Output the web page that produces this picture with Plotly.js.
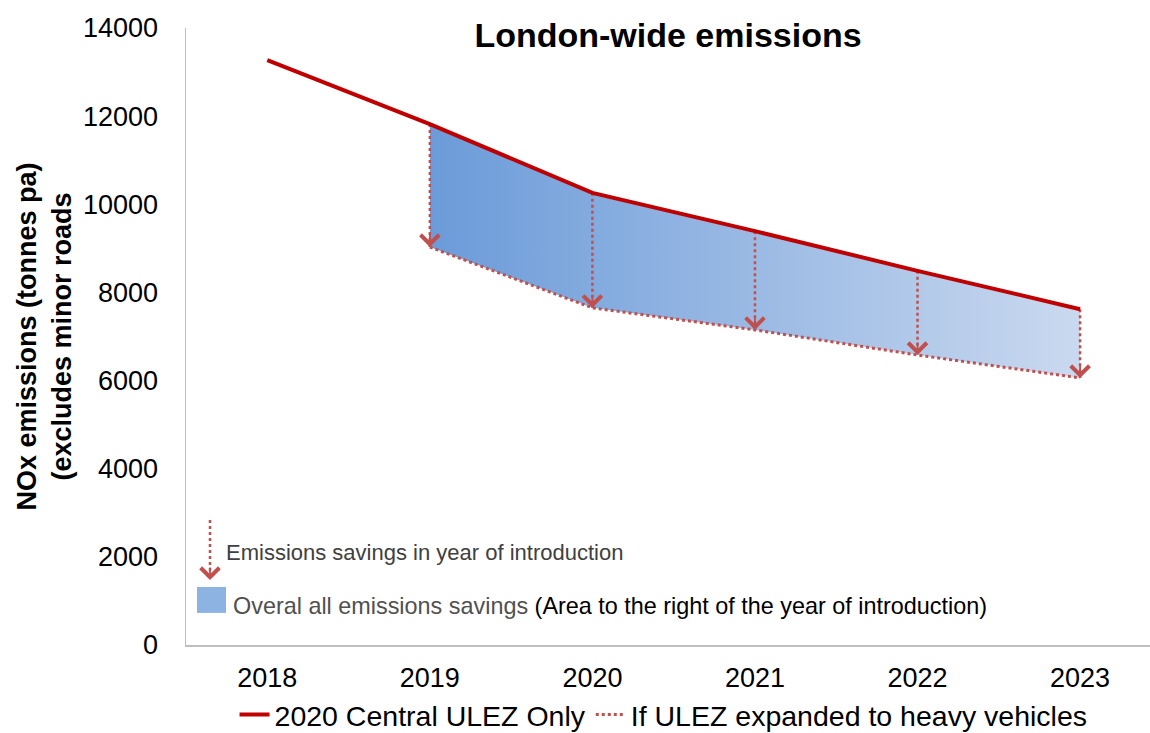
<!DOCTYPE html>
<html><head><meta charset="utf-8">
<script src="https://cdn.plot.ly/plotly-3.0.1.min.js"></script>
<style>html,body{margin:0;padding:0;background:#fff}#chart{width:1150px;height:733px}</style>
</head><body><div id="chart"></div>
<script>
const years = [2018, 2019, 2020, 2021, 2022, 2023];
const centralUlez = [13270, 11820, 10260, 9390, 8490, 7620];
const savingYears = [2019, 2020, 2021, 2022, 2023];
const expandedUlez = [9030, 7650, 7150, 6580, 6060];
const yTicks = [0, 2000, 4000, 6000, 8000, 10000, 12000, 14000];
const seriesNames = ['2020 Central ULEZ Only', 'If ULEZ expanded to heavy vehicles'];
const titleText = 'London-wide emissions';
const yTitleLines = ['NOx emissions (tonnes pa)', '(excludes minor roads'];
const noteArrowText = 'Emissions savings in year of introduction';
const noteAreaGray = 'Overal all emissions savings';
const noteAreaBlack = '(Area to the right of the year of introduction)';

const FONT = 'Arial, "Liberation Sans", sans-serif';
const RED = '#c00000';
const DOT_RED = '#c0504d';

const centralFromIntro = savingYears.map(y => centralUlez[years.indexOf(y)]);

// dotted drop lines built from the data
const dropX = [], dropY = [];
savingYears.forEach((y, i) => {
  dropX.push(y, y, null);
  dropY.push(centralFromIntro[i], expandedUlez[i], null);
});

const traces = [
  {x: savingYears, y: centralFromIntro, mode: 'lines', line: {width: 0}, showlegend: false, hoverinfo: 'skip'},
  {x: savingYears, y: expandedUlez, mode: 'lines', line: {width: 0}, fill: 'tonexty',
   fillgradient: {type: 'horizontal', colorscale: [[0, '#6b9bd9'], [1, '#cad9ef']]},
   showlegend: false, hoverinfo: 'skip'},
  {x: dropX, y: dropY, mode: 'lines', line: {color: DOT_RED, width: 2.5, dash: 'dot'}, showlegend: false, hoverinfo: 'skip'},
  {x: years, y: centralUlez, mode: 'lines', name: seriesNames[0], line: {color: RED, width: 4}},
  {x: savingYears, y: expandedUlez, mode: 'lines', name: seriesNames[1], line: {color: DOT_RED, width: 3, dash: 'dot'}}
];

const annotations = savingYears.map((y, i) => ({
  x: y, y: expandedUlez[i], xref: 'x', yref: 'y', text: '', showarrow: true,
  ax: 0, ay: -14, arrowhead: 4, arrowsize: 2.0, arrowwidth: 1.8, arrowcolor: DOT_RED
}));

// in-plot key
annotations.push({
  xref: 'paper', yref: 'paper', x: 0.0249, y: 0.1053, text: '', showarrow: true,
  ax: 0, ay: -14, arrowhead: 4, arrowsize: 2.0, arrowwidth: 1.8, arrowcolor: DOT_RED
});
annotations.push({
  xref: 'paper', yref: 'paper', x: 0.0395, y: 0.1507, xanchor: 'left', yanchor: 'middle',
  text: noteArrowText, showarrow: false, font: {family: FONT, size: 22, color: '#404040'}
});
annotations.push({
  xref: 'paper', yref: 'paper', x: 0.0465, y: 0.0632, xanchor: 'left', yanchor: 'middle',
  text: '<span style="color:#505050">' + noteAreaGray + '</span> ' + noteAreaBlack,
  showarrow: false, font: {family: FONT, size: 23.4, color: '#000'}
});

const shapes = [
  {type: 'line', xref: 'paper', yref: 'paper', x0: 0.0249, x1: 0.0249, y0: 0.2026, y1: 0.115,
   line: {color: DOT_RED, width: 2.5, dash: 'dot'}},
  {type: 'rect', xref: 'paper', yref: 'paper', x0: 0.0114, x1: 0.0415, y0: 0.052, y1: 0.094,
   fillcolor: '#8db3e2', line: {width: 0}}
];

const layout = {
  width: 1150, height: 733,
  margin: {l: 186, r: 0, t: 28, b: 88},
  paper_bgcolor: '#fff', plot_bgcolor: '#fff',
  font: {family: FONT, color: '#000'},
  title: {text: titleText, font: {family: FONT, size: 34, weight: 'bold', color: '#000'},
          x: 0.5, xref: 'paper', xanchor: 'center', y: 0.952, yref: 'container', yanchor: 'middle'},
  xaxis: {range: [2017.5, 2023.43], tickvals: years, ticktext: years.map(String),
          showline: true, linecolor: '#bfbfbf', linewidth: 2, showgrid: false, zeroline: false,
          ticks: '', tickfont: {family: FONT, size: 27, color: '#000'}, ticklabelstandoff: 8,
          automargin: false},
  yaxis: {range: [0, 14000], tickvals: yTicks, ticktext: yTicks.map(String),
          showline: true, linecolor: '#bfbfbf', linewidth: 1.5, showgrid: false, zeroline: false,
          ticks: '', tickfont: {family: FONT, size: 27, color: '#000'}, ticklabelstandoff: 21,
          automargin: false,
          title: {text: yTitleLines.join('<br>'), font: {family: FONT, size: 27, weight: 'bold', color: '#000'}, standoff: 3}},
  legend: {orientation: 'h', xref: 'container', yref: 'container', x: 0.577, xanchor: 'center',
           y: 1 - 715 / 733, yanchor: 'middle',
           font: {family: FONT, size: 28.5, color: '#000'}, traceorder: 'normal'},
  showlegend: true,
  annotations: annotations,
  shapes: shapes
};

Plotly.newPlot('chart', traces, layout, {displayModeBar: false, staticPlot: true});
</script>
</body></html>
